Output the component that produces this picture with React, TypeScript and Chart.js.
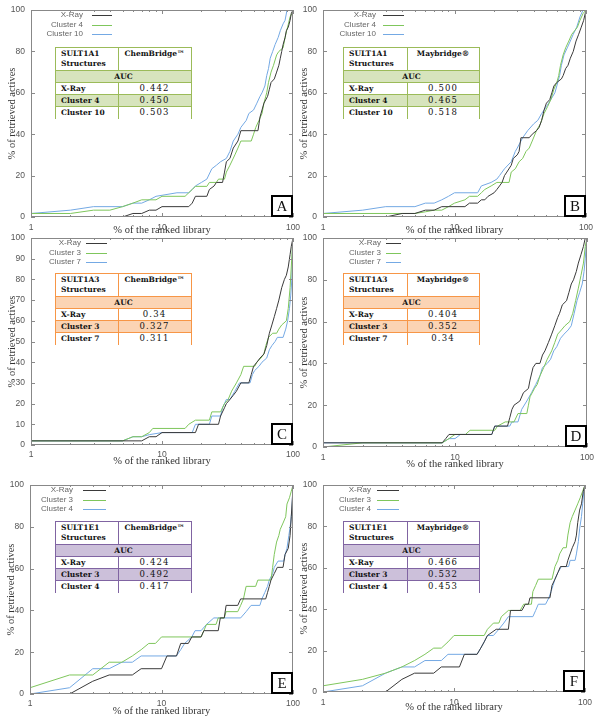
import React, { useEffect, useRef } from "react";
import { Chart, registerables } from "chart.js";
Chart.register(...registerables);

type Pt = [number, number];

// ---------- tick values ----------
const X_TICKS = [1, 10, 100];
const X_MINOR_TICKS = [2, 3, 4, 5, 6, 7, 8, 9, 20, 30, 40, 50, 60, 70, 80, 90];
const Y_TICKS_20 = [0, 20, 40, 60, 80, 100];
const Y_TICKS_10 = [0, 10, 20, 30, 40, 50, 60, 70, 80, 90, 100];

// ---------- Panel A (SULT1A1, ChemBridge) ----------
const A_XRAY: Pt[] = [[1,0],[5,0],[6,1.7],[7,1.7],[8,3.3],[9,3.3],[10,5],[16,5],[17,6.7],[18,10],[22,10],[23,13.3],[25,15],[26,16.7],[29,16.7],[30,21.7],[31,26.7],[33,28.3],[35,33.3],[38,36.7],[40,41.7],[54,41.7],[55,45],[56,48.3],[58,51.7],[60,55],[64,58.3],[66,61.7],[68,65],[72,66.7],[75,70],[78,73.3],[80,76.7],[82,80],[84,83.3],[87,86.7],[89,90],[92,91.7],[95,95],[97,98.3],[100,100]];
const A_CL4: Pt[] = [[1,1.7],[2,1.7],[3,3.3],[4,3.3],[5,5],[6,6.7],[7,8.3],[9,8.3],[10,10],[15,10],[16,11.7],[17,13.3],[18,14.8],[22,14.8],[23,16.7],[26,16.7],[27,18.3],[30,18.3],[31,21.7],[33,25],[36,30],[38,33.3],[40,36.7],[48,36.7],[50,40],[52,43.3],[55,46.7],[58,50],[60,55],[63,60],[65,65],[68,70],[71,73.3],[75,78.3],[78,80],[84,81.7],[86,85],[89,89.5],[92,93],[95,96.7],[98,98.3],[100,100]];
const A_CL10: Pt[] = [[1,1.7],[2,3.3],[3,5],[5,5],[6,6.7],[7,6.7],[8,8.3],[9,10],[13,11.7],[16,11.7],[17,13.3],[18,15],[20,16.7],[22,18.3],[24,23.3],[26,25],[28,26.7],[31,28.3],[33,31.7],[35,36.7],[38,40],[40,43.3],[44,46.7],[46,50],[50,51.7],[53,55],[56,58.3],[58,60],[61,63.3],[63,68.3],[65,71.7],[67,76.7],[70,80],[73,83.3],[77,86.7],[80,90],[84,93.3],[87,95],[90,100],[100,100]];

// ---------- Panel B (SULT1A1, Maybridge) ----------
const B_XRAY: Pt[] = [[1,0],[3,0],[4,1.7],[5,1.7],[6,3.3],[7,3.3],[8,5],[12,5],[13,6.7],[15,6.7],[16,8.3],[17,8.3],[18,10],[20,11.7],[21,13.3],[22,15],[23,16.7],[24,20],[25,21.7],[27,25],[28,28.3],[30,30],[31,31.7],[32,38.3],[37,38.3],[39,40],[42,41.7],[44,43.3],[46,46.7],[48,51.7],[50,55],[53,56.7],[55,60],[57,63.3],[60,65],[65,66.7],[67,68.3],[70,71.7],[73,73.3],[76,76.7],[80,80],[84,85],[88,88.3],[92,91.7],[96,95],[100,100]];
const B_CL4: Pt[] = [[1,1.7],[5,1.7],[6,2.5],[7,3.3],[8,3.3],[9,5],[10,6.7],[12,8.3],[13,10],[15,10],[16,11.7],[17,13.3],[19,15],[21,16.7],[26,16.7],[27,21.7],[29,23.3],[31,26.7],[33,28.3],[35,31.7],[37,33.3],[39,36.7],[42,41.7],[45,45],[48,50],[51,53.3],[54,56.7],[57,61.7],[60,65],[62,68.3],[64,73.3],[67,78.3],[70,81.7],[74,85],[78,88.3],[82,90],[86,91.7],[90,95],[95,98.3],[100,100]];
const B_CL10: Pt[] = [[1,1.7],[2,3.3],[3,5],[5,5],[6,6.7],[7,6.7],[8,8.3],[9,10],[10,11.7],[15,11.7],[16,15],[19,16.7],[21,18.3],[22,20],[24,23.3],[27,26.7],[29,31.7],[30,33.3],[33,38.3],[36,41.7],[40,45],[43,46.7],[46,50],[50,53.3],[54,56.7],[58,60],[60,63.3],[63,68.3],[65,73.3],[68,78.3],[72,81.7],[76,85],[80,88.3],[85,91.7],[90,96.7],[95,100],[100,100]];

// ---------- Panel C (SULT1A3, ChemBridge) ----------
const C_XRAY: Pt[] = [[1,2],[7,2],[8,4],[9,4],[10,6],[18,6],[19,10],[27,10],[28,14],[30,18],[31,20],[33,22],[35,24],[37,26],[40,30],[46,30],[48,34],[50,38],[53,40],[56,42],[60,44],[63,48],[66,54],[69,58],[72,62],[75,66],[78,70],[82,76],[86,80],[89,82],[92,86],[95,92],[97,96],[100,100]];
const C_CL3: Pt[] = [[1,2],[5,2],[6,4],[7,4],[8,6],[8.5,8],[15,8],[16,10],[18,12],[23,12],[24,16],[28,16],[30,20],[32,22],[34,26],[37,30],[40,34],[42,38],[51,38],[53,40],[57,42],[60,44],[62,48],[65,52],[70,54],[75,54],[78,56],[82,58],[89,60],[92,66],[95,76],[97,86],[99,96],[100,100]];
const C_CL7: Pt[] = [[1,2],[5,2],[6,4],[7,4],[8,5],[10,6],[17,6],[18,10],[23,10],[24,14],[28,14],[29,18],[31,22],[33,22],[36,26],[39,30],[47,30],[49,34],[51,36],[55,38],[58,40],[63,42],[66,46],[69,48],[73,50],[76,52],[84,52],[88,56],[91,60],[94,66],[96,72],[98,80],[99,94],[100,100]];

// ---------- Panel D (SULT1A3, Maybridge) ----------
const D_XRAY: Pt[] = [[1,2],[8,2],[8.5,4],[9,6],[19,6],[20,10],[25,10],[26,14],[27,18],[28,20],[31,22],[33,26],[36,28],[37,32],[39,38],[41,40],[44,40],[46,44],[48,46],[51,50],[54,54],[57,58],[60,62],[62,64],[65,68],[70,70],[73,74],[76,78],[79,80],[83,84],[86,88],[90,92],[94,96],[97,100],[100,100]];
const D_CL3: Pt[] = [[1,0],[2,2],[8,2],[9,4],[10,6],[12,6],[13,8],[20,8],[21,10],[24,12],[28,12],[30,16],[35,16],[36,20],[37,24],[40,28],[42,30],[44,34],[47,38],[50,42],[54,46],[57,50],[60,54],[64,56],[68,58],[74,60],[78,64],[82,70],[86,76],[90,82],[94,88],[97,96],[100,100]];
const D_CL7: Pt[] = [[1,2],[8,2],[9,4],[10,4],[11,6],[19,6],[20,10],[26,10],[27,12],[30,12],[32,18],[35,22],[38,26],[41,30],[44,34],[46,38],[50,40],[53,42],[56,46],[59,48],[63,52],[67,54],[72,56],[76,58],[80,64],[84,70],[88,74],[92,78],[95,84],[97,90],[99,98],[100,100]];

// ---------- Panel E (SULT1E1, ChemBridge) ----------
const E_XRAY: Pt[] = [[1,0],[2,0],[3,6.1],[4,9.1],[6,9.1],[7,12.1],[10,12.1],[11,18.2],[13,18.2],[14,24.2],[16,24.2],[17,27.3],[20,27.3],[21,30.3],[27,30.3],[28,36.4],[30,36.4],[31,42.4],[38,42.4],[40,45.5],[62,45.5],[64,48.5],[66,51.5],[68,54.5],[72,57.6],[76,60.6],[84,60.6],[87,66.7],[92,69.7],[95,75.8],[97,84.8],[99,93.9],[100,100]];
const E_CL3: Pt[] = [[1,3],[2,9.1],[3,9.1],[4,15.2],[5,15.2],[6,18.2],[7,21.2],[8,24.2],[9,24.2],[10,27.3],[20,27.3],[21,30.3],[22,33.3],[26,33.3],[27,36.4],[30,36.4],[31,39.4],[38,39.4],[40,42.4],[42,45.5],[44,51.5],[52,51.5],[54,54.5],[68,54.5],[70,60.6],[72,66.7],[75,72.7],[78,75.8],[80,78.8],[84,81.8],[88,84.8],[90,90.9],[94,93.9],[97,97],[100,100]];
const E_CL4: Pt[] = [[1,0],[2,3],[3,12.1],[4,12.1],[5,15.2],[6,15.2],[7,18.2],[13,18.2],[14,21.2],[15,24.2],[17,27.3],[18,30.3],[20,30.3],[22,33.3],[25,36.4],[40,36.4],[44,39.4],[48,42.4],[56,42.4],[58,45.5],[61,48.5],[64,51.5],[66,54.5],[70,57.6],[72,60.6],[77,63.6],[85,63.6],[87,66.7],[90,69.7],[93,75.8],[96,81.8],[98,87.9],[100,100]];

// ---------- Panel F (SULT1E1, Maybridge) ----------
const F_XRAY: Pt[] = [[1,0],[3,0],[4,6.1],[5,9.1],[7,9.1],[8,12.1],[11,12.1],[12,18.2],[15,18.2],[16,21.2],[17,24.2],[18,27.3],[21,30.3],[26,30.3],[27,39.4],[33,39.4],[35,42.4],[37,42.4],[38,45.5],[54,45.5],[55,48.5],[56,51.5],[59,54.5],[62,57.6],[65,60.6],[72,60.6],[74,63.6],[77,66.7],[80,69.7],[84,72.7],[86,75.8],[88,81.8],[91,87.9],[94,90.9],[97,97],[100,100]];
const F_CL3: Pt[] = [[1,3],[2,6.1],[3,9.1],[4,12.1],[5,15.2],[6,18.2],[7,21.2],[8,21.2],[9,24.2],[10,27.3],[17,27.3],[18,30.3],[20,33.3],[22,33.3],[23,36.4],[26,39.4],[32,39.4],[34,42.4],[39,42.4],[40,48.5],[42,51.5],[44,54.5],[56,54.5],[59,60.6],[62,63.6],[64,66.7],[68,69.7],[72,69.7],[74,75.8],[77,81.8],[80,84.8],[84,87.9],[88,90.9],[92,93.9],[96,97],[100,100]];
const F_CL4: Pt[] = [[1,0],[2,3],[3,9.1],[4,12.1],[5,12.1],[6,15.2],[8,15.2],[9,18.2],[15,18.2],[16,21.2],[17,24.2],[18,27.3],[20,27.3],[22,30.3],[24,33.3],[26,36.4],[40,36.4],[42,39.4],[44,42.4],[50,42.4],[53,45.5],[55,48.5],[57,51.5],[59,54.5],[62,57.6],[66,60.6],[75,60.6],[77,63.6],[84,63.6],[86,66.7],[89,72.7],[91,78.8],[94,84.8],[96,90.9],[98,97],[100,100]];

// ---------- legend / table text ----------
const NAMES_1A1 = ["X-Ray", "Cluster 4", "Cluster 10"];
const NAMES_1A3 = ["X-Ray", "Cluster 3", "Cluster 7"];
const NAMES_1E1 = ["X-Ray", "Cluster 3", "Cluster 4"];
const AUC_A = ["0.442", "0.450", "0.503"];
const AUC_B = ["0.500", "0.465", "0.518"];
const AUC_C = ["0.34", "0.327", "0.311"];
const AUC_D = ["0.404", "0.352", "0.34"];
const AUC_E = ["0.424", "0.492", "0.417"];
const AUC_F = ["0.466", "0.532", "0.453"];

// ---------- styles ----------
const LINE_COLORS = ["#3a3a3a", "#7fc65c", "#74a9e4"];
const THEMES = {
  green: { border: "#9bbb59", shade: "#d7e4bd" },
  orange: { border: "#f79646", shade: "#fbd4b4" },
  purple: { border: "#8064a2", shade: "#ccc0da" },
};

interface PanelSpec {
  letter: string;
  left: number; top: number; right: number; bottom: number;
  titleY: number;
  tickPad: number;
  yTicks: number[];
  names: string[];
  series: Pt[][];
  legend: { textEnd: number; lineStart: number; lineEnd: number };
  table: { left: number; top: number; colW: number; struct: string; lib: string; theme: { border: string; shade: string }; auc: string[] };
}

const PANELS: PanelSpec[] = [
  { letter: "A", left: 31, top: 10, right: 293, bottom: 217, titleY: 231, tickPad: 6, yTicks: Y_TICKS_20, names: NAMES_1A1, series: [A_XRAY, A_CL4, A_CL10], legend: { textEnd: 52, lineStart: 61, lineEnd: 81 }, table: { left: 55, top: 47, colW: 63, struct: "SULT1A1", lib: "ChemBridge™", theme: THEMES.green, auc: AUC_A } },
  { letter: "B", left: 323, top: 10, right: 586, bottom: 217, titleY: 231, tickPad: 6, yTicks: Y_TICKS_20, names: NAMES_1A1, series: [B_XRAY, B_CL4, B_CL10], legend: { textEnd: 53, lineStart: 60, lineEnd: 81 }, table: { left: 343, top: 47, colW: 64, struct: "SULT1A1", lib: "Maybridge®", theme: THEMES.green, auc: AUC_B } },
  { letter: "C", left: 31, top: 238, right: 293, bottom: 445, titleY: 462, tickPad: 5, yTicks: Y_TICKS_10, names: NAMES_1A3, series: [C_XRAY, C_CL3, C_CL7], legend: { textEnd: 50, lineStart: 55, lineEnd: 76 }, table: { left: 55, top: 273, colW: 63, struct: "SULT1A3", lib: "ChemBridge™", theme: THEMES.orange, auc: AUC_C } },
  { letter: "D", left: 323, top: 238, right: 587, bottom: 447, titleY: 465, tickPad: 6, yTicks: Y_TICKS_20, names: NAMES_1A3, series: [D_XRAY, D_CL3, D_CL7], legend: { textEnd: 58, lineStart: 63, lineEnd: 78 }, table: { left: 343, top: 273, colW: 64, struct: "SULT1A3", lib: "Maybridge®", theme: THEMES.orange, auc: AUC_D } },
  { letter: "E", left: 30, top: 485, right: 293, bottom: 694, titleY: 712, tickPad: 5, yTicks: Y_TICKS_20, names: NAMES_1E1, series: [E_XRAY, E_CL3, E_CL4], legend: { textEnd: 43, lineStart: 53, lineEnd: 76 }, table: { left: 55, top: 521, colW: 63, struct: "SULT1E1", lib: "ChemBridge™", theme: THEMES.purple, auc: AUC_E } },
  { letter: "F", left: 323, top: 485, right: 585, bottom: 692, titleY: 708, tickPad: 6, yTicks: Y_TICKS_20, names: NAMES_1E1, series: [F_XRAY, F_CL3, F_CL4], legend: { textEnd: 48, lineStart: 54, lineEnd: 76 }, table: { left: 343, top: 521, colW: 64, struct: "SULT1E1", lib: "Maybridge®", theme: THEMES.purple, auc: AUC_F } },
];

const LEGEND_ROWS = [5, 14.5, 24];

const decoPlugin = {
  id: "deco",
  afterDraw(chart: any, _args: any, opts: any) {
    const { ctx, chartArea } = chart;
    const { left, right, top, bottom } = chartArea;
    const xs = chart.scales.x;
    const ys = chart.scales.y;
    ctx.save();
    ctx.strokeStyle = "#8a8a8a";
    ctx.lineWidth = 1;
    ctx.beginPath();
    for (const v of opts.yTicks) {
      const py = Math.round(ys.getPixelForValue(v)) + 0.5;
      ctx.moveTo(left, py); ctx.lineTo(left + 4, py);
      ctx.moveTo(right - 4, py); ctx.lineTo(right, py);
    }
    for (const v of X_TICKS) {
      const px = Math.round(xs.getPixelForValue(v)) + 0.5;
      ctx.moveTo(px, top); ctx.lineTo(px, top + 4);
      ctx.moveTo(px, bottom); ctx.lineTo(px, bottom - 4);
    }
    for (const v of X_MINOR_TICKS) {
      const px = Math.round(xs.getPixelForValue(v)) + 0.5;
      ctx.moveTo(px, top); ctx.lineTo(px, top + 2);
      ctx.moveTo(px, bottom); ctx.lineTo(px, bottom - 2);
    }
    ctx.stroke();
    ctx.strokeStyle = "#888";
    ctx.strokeRect(left + 0.5, top + 0.5, right - left - 1, bottom - top - 1);
    // legend
    ctx.font = "8px 'Liberation Sans', Arial, sans-serif";
    ctx.textAlign = "right";
    ctx.textBaseline = "middle";
    opts.names.forEach((n: string, i: number) => {
      const y = top + LEGEND_ROWS[i];
      ctx.fillStyle = "#666";
      ctx.fillText(n, left + opts.legend.textEnd, y);
      ctx.strokeStyle = LINE_COLORS[i];
      ctx.beginPath();
      ctx.moveTo(left + opts.legend.lineStart, Math.round(y) + 0.5);
      ctx.lineTo(left + opts.legend.lineEnd, Math.round(y) + 0.5);
      ctx.stroke();
    });
    // letter box
    ctx.fillStyle = "#fff";
    ctx.fillRect(right - 21, bottom - 21, 20, 20);
    ctx.strokeStyle = "#000";
    ctx.lineWidth = 2;
    ctx.strokeRect(right - 21, bottom - 21, 20, 20);
    ctx.fillStyle = "#111";
    ctx.font = "15px 'Liberation Serif', serif";
    ctx.textAlign = "center";
    ctx.textBaseline = "middle";
    ctx.fillText(opts.letter, right - 11, bottom - 10);
    ctx.restore();
  },
};

function Panel({ spec }: { spec: PanelSpec }) {
  const ref = useRef<HTMLCanvasElement>(null);
  const yW = 31;
  const padTop = 10;
  const padRight = 8;
  const cLeft = spec.left - yW;
  const cTop = spec.top - padTop;
  const cW = spec.right - cLeft + padRight;
  const cH = spec.titleY + 7 - cTop;
  const xH = cH - (spec.bottom - cTop);

  useEffect(() => {
    const chart = new Chart(ref.current as HTMLCanvasElement, {
      type: "line",
      data: {
        datasets: spec.series.map((s, i) => ({
          label: spec.names[i],
          data: s.map(([x, y]) => ({ x, y })),
          borderColor: LINE_COLORS[i],
          backgroundColor: LINE_COLORS[i],
          borderWidth: 1,
          pointRadius: 0,
          fill: false,
          tension: 0,
        })),
      },
      options: {
        responsive: false,
        animation: false,
        devicePixelRatio: 1,
        layout: { padding: { top: padTop, right: padRight, left: 0, bottom: 0 } },
        plugins: {
          legend: { display: false },
          tooltip: { enabled: false },
          deco: { yTicks: spec.yTicks, names: spec.names, legend: spec.legend, letter: spec.letter },
        } as any,
        scales: {
          x: {
            type: "logarithmic",
            min: 1,
            max: 100,
            afterBuildTicks: (s: any) => { s.ticks = X_TICKS.map((v) => ({ value: v })); },
            afterFit: (s: any) => { s.height = xH; s.paddingLeft = 0; s.paddingRight = 0; },
            grid: { display: false, drawTicks: false },
            border: { display: false },
            ticks: {
              autoSkip: false, maxRotation: 0, padding: spec.tickPad,
              font: { family: "'Liberation Sans', Arial, sans-serif", size: 8.5 },
              color: "#555",
              callback: (v: any) => String(v),
            },
            title: {
              display: true, text: "% of the ranked library",
              font: { family: "'Liberation Serif', serif", size: 10.5 },
              color: "#333", padding: { top: 0, bottom: 1 },
            },
          },
          y: {
            min: 0,
            max: 100,
            afterBuildTicks: (s: any) => { s.ticks = spec.yTicks.map((v) => ({ value: v })); },
            afterFit: (s: any) => { s.width = yW; s.paddingTop = 0; s.paddingBottom = 0; },
            grid: { display: false, drawTicks: false },
            border: { display: false },
            ticks: {
              padding: 6,
              font: { family: "'Liberation Sans', Arial, sans-serif", size: 8.5 },
              color: "#555",
            },
            title: {
              display: true, text: "% of retrieved actives",
              font: { family: "'Liberation Serif', serif", size: 10.5 },
              color: "#333", padding: { top: 5.7, bottom: 0 },
            },
          },
        } as any,
      },
      plugins: [decoPlugin as any],
    });
    return () => chart.destroy();
  }, []);

  return (
    <canvas
      ref={ref}
      width={cW}
      height={cH}
      style={{ position: "absolute", left: cLeft, top: cTop, width: cW, height: cH }}
    />
  );
}

function AucTable({ spec }: { spec: PanelSpec }) {
  const t = spec.table;
  const b = t.theme.border;
  const W = 137;
  const bold: React.CSSProperties = { fontFamily: "'DejaVu Serif', serif", fontWeight: "bold", fontSize: 7.5, color: "#111" };
  const num: React.CSSProperties = { fontFamily: "'DejaVu Serif', serif", fontSize: 8.5, letterSpacing: 1.1, color: "#111" };
  const cell = (w: number, extra: React.CSSProperties): React.CSSProperties => ({
    width: w, boxSizing: "border-box", height: "100%", overflow: "hidden", whiteSpace: "nowrap", ...extra,
  });
  const rowStyle = (h: number, bg: string, last = false): React.CSSProperties => ({
    display: "flex", height: h, boxSizing: "border-box", background: bg,
    borderBottom: last ? "none" : `1px solid ${b}`,
  });
  const rows = [0, 1, 2].map((i) => (
    <div key={i} style={rowStyle(12, i === 1 ? t.theme.shade : "#fff", i === 2)}>
      <div style={cell(t.colW, { ...bold, borderRight: `1px solid ${b}`, paddingLeft: 5, lineHeight: "11px" })}>{spec.names[i]}</div>
      <div style={cell(W - 3 - t.colW, { ...num, textAlign: "center", lineHeight: "11px" })}>{t.auc[i]}</div>
    </div>
  ));
  return (
    <div style={{ position: "absolute", left: t.left, top: t.top, width: W, height: 72, boxSizing: "border-box", border: `1.5px solid ${b}`, background: "#fff" }}>
      <div style={rowStyle(23, "#fff")}>
        <div style={cell(t.colW, { ...bold, borderRight: `1px solid ${b}`, paddingLeft: 5, paddingTop: 1, lineHeight: "10px", whiteSpace: "normal" })}>
          {t.struct}<br />Structures
        </div>
        <div style={cell(W - 3 - t.colW, { ...bold, textAlign: "center", paddingTop: 1, lineHeight: "10px" })}>{t.lib}</div>
      </div>
      <div style={{ ...rowStyle(12, t.theme.shade), borderBottom: `1.5px solid ${b}`, ...bold, textAlign: "center", lineHeight: "11px" }}>
        <div style={{ width: "100%" }}>AUC</div>
      </div>
      {rows}
    </div>
  );
}

export default function App() {
  return (
    <div style={{ position: "absolute", left: 0, top: 0, width: 601, height: 723, background: "#fff", overflow: "hidden" }}>
      {PANELS.map((p) => <Panel key={p.letter} spec={p} />)}
      {PANELS.map((p) => <AucTable key={"t" + p.letter} spec={p} />)}
    </div>
  );
}
